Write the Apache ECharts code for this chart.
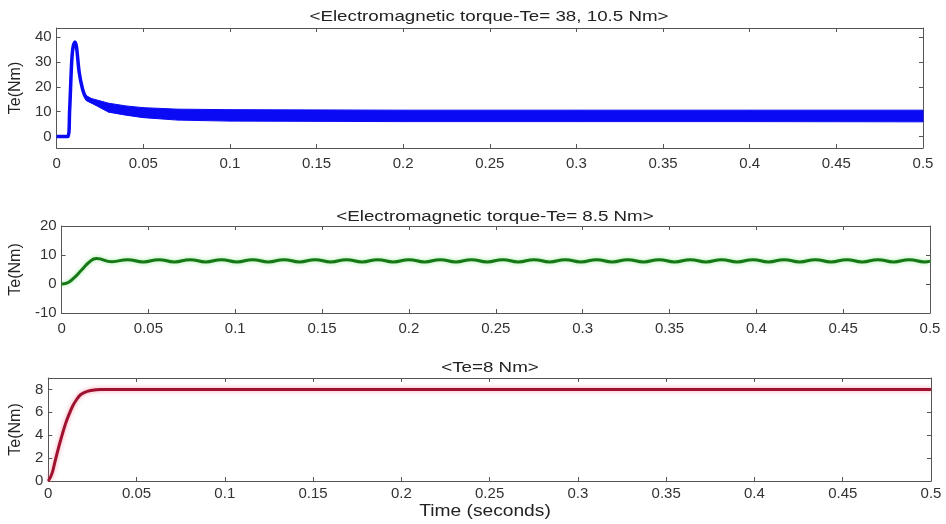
<!DOCTYPE html>
<html>
<head>
<meta charset="utf-8">
<script src="https://cdn.jsdelivr.net/npm/echarts@6/dist/echarts.min.js"></script>
<style>
  html, body { margin: 0; padding: 0; background: #fff; }
  #chart { width: 946px; height: 524px; }
</style>
</head>
<body>
<div id="chart"></div>
<script>
// panel titles
var titles = [
    '<Electromagnetic torque-Te= 38, 10.5 Nm>',
    '<Electromagnetic torque-Te= 8.5 Nm>',
    '<Te=8 Nm>'
];
var xTicks = [0, 0.05, 0.1, 0.15, 0.2, 0.25, 0.3, 0.35, 0.4, 0.45, 0.5];
var yTicks1 = [0, 10, 20, 30, 40];
var yTicks2 = [-10, 0, 10, 20];
var yTicks3 = [0, 2, 4, 6, 8];

// panel 1: start-up transient (centre line)
var t1 = [0, 0.0065, 0.0075, 0.009, 0.0105, 0.0115, 0.013, 0.015, 0.017, 0.019, 0.022, 0.026, 0.03, 0.04, 0.05, 0.06, 0.08, 0.1, 0.15, 0.2, 0.3, 0.4, 0.5];
var te1 = [0, 0, 10, 33, 38, 36, 26, 19, 15.5, 14.5, 13.5, 12.4, 11.6, 10.3, 9.6, 9.1, 8.6, 8.4, 8.3, 8.3, 8.3, 8.3, 8.3];
// panel 1: ripple envelope (lower / upper)
var tBand = [0.017, 0.02, 0.03, 0.04, 0.05, 0.07, 0.1, 0.2, 0.3, 0.4, 0.5];
var bandLow = [14.5, 13.5, 9.8, 8.6, 7.6, 6.6, 6.2, 6.0, 6.0, 6.0, 5.9];
var bandHigh = [16.5, 15.3, 13.4, 12.3, 11.6, 11.0, 10.8, 10.6, 10.6, 10.6, 10.6];

// panel 2: peaks and troughs of the ripple
var t2 = [0, 0.003, 0.007, 0.0115, 0.016, 0.020, 0.029, 0.038, 0.047, 0.056, 0.065, 0.074, 0.083, 0.092, 0.101,
    0.110, 0.119, 0.128, 0.137, 0.146, 0.155, 0.164, 0.173, 0.182, 0.191, 0.200, 0.209, 0.218, 0.227,
    0.236, 0.245, 0.254, 0.263, 0.272, 0.281, 0.290, 0.299, 0.308, 0.317, 0.326, 0.335, 0.344, 0.353,
    0.362, 0.371, 0.380, 0.389, 0.398, 0.407, 0.416, 0.425, 0.434, 0.443, 0.452, 0.461, 0.470, 0.479,
    0.488, 0.497, 0.5];
var te2 = [0, 0.3, 2.0, 4.8, 7.6, 8.8, 7.7, 8.4, 7.6, 8.4, 7.6, 8.4, 7.6, 8.4, 7.6,
    8.4, 7.6, 8.4, 7.6, 8.4, 7.6, 8.4, 7.6, 8.4, 7.6, 8.4, 7.6, 8.4, 7.6,
    8.4, 7.6, 8.4, 7.6, 8.4, 7.6, 8.4, 7.6, 8.4, 7.6, 8.4, 7.6, 8.4, 7.6,
    8.4, 7.6, 8.4, 7.6, 8.4, 7.6, 8.4, 7.6, 8.4, 7.6, 8.4, 7.6, 8.4, 7.6,
    8.4, 7.6, 7.9];

// panel 3: reference torque
var t3 = [0, 0.002, 0.004, 0.006, 0.008, 0.010, 0.012, 0.014, 0.016, 0.018, 0.020, 0.024, 0.03, 0.04, 0.5];
var te3 = [0, 0.6, 1.8, 3.0, 4.1, 5.1, 5.9, 6.6, 7.1, 7.5, 7.7, 7.9, 8.0, 8.0, 8.0];

var FONT = 'Liberation Sans, Arial, sans-serif';
var AXIS_COLOR = '#555';
var BLUE = '#0a0af5';

function pairs(xs, ys) {
    return xs.map(function (x, i) { return [x, ys[i]]; });
}

function xAxisFor(idx, margin) {
    return [{
        type: 'value', gridIndex: idx, min: 0, max: 0.5, interval: 0.05,
        axisLine: {onZero: false, lineStyle: {color: AXIS_COLOR}},
        axisTick: {inside: true, length: 4, lineStyle: {color: AXIS_COLOR}},
        axisLabel: {color: '#333', fontSize: 15, fontFamily: FONT, margin: margin},
        splitLine: {show: false}
    }, {
        type: 'value', gridIndex: idx, position: 'top', min: 0, max: 0.5, interval: 0.05,
        axisLine: {onZero: false, lineStyle: {color: AXIS_COLOR}},
        axisTick: {inside: true, length: 4, lineStyle: {color: AXIS_COLOR}},
        axisLabel: {show: false},
        splitLine: {show: false}
    }];
}

function yAxisFor(idx, min, max, ticks, gap) {
    return [{
        type: 'value', gridIndex: idx, min: min, max: max,
        axisLine: {show: true, onZero: false, lineStyle: {color: AXIS_COLOR}},
        axisTick: {show: true, inside: true, length: 4, customValues: ticks, lineStyle: {color: AXIS_COLOR}},
        axisLabel: {color: '#333', fontSize: 15, fontFamily: FONT, margin: 5, customValues: ticks},
        splitLine: {show: false},
        name: 'Te(Nm)', nameLocation: 'middle', nameRotate: 90, nameGap: gap,
        nameTextStyle: {color: '#222', fontSize: 16, fontFamily: FONT}
    }, {
        type: 'value', gridIndex: idx, position: 'right', min: min, max: max,
        axisLine: {show: true, onZero: false, lineStyle: {color: AXIS_COLOR}},
        axisTick: {show: true, inside: true, length: 4, customValues: ticks, lineStyle: {color: AXIS_COLOR}},
        axisLabel: {show: false},
        splitLine: {show: false}
    }];
}

// filled ripple band between bandLow and bandHigh
function renderBand(params, api) {
    var i = params.dataIndex;
    if (i >= tBand.length - 1) return;
    var pts = [
        api.coord([tBand[i], bandLow[i]]),
        api.coord([tBand[i + 1], bandLow[i + 1]]),
        api.coord([tBand[i + 1], bandHigh[i + 1]]),
        api.coord([tBand[i], bandHigh[i]])
    ];
    return {
        type: 'polygon',
        shape: {points: pts},
        style: {fill: BLUE, stroke: BLUE, lineWidth: 1}
    };
}

var chart = echarts.init(document.getElementById('chart'), null, {renderer: 'canvas'});

// titles are drawn a little stretched, like the source picture
var titleX = [489, 495, 490];
var titleY = [9, 209, 360];
var textEls = titles.map(function (t, i) {
    return {
        type: 'text', x: titleX[i], y: titleY[i], scaleX: 1.25,
        style: {text: t, fill: '#222', font: '15px ' + FONT, textAlign: 'center', textVerticalAlign: 'top'}
    };
});
textEls.push({
    type: 'text', x: 485, y: 504, scaleX: 1.2,
    style: {text: 'Time (seconds)', fill: '#222', font: '16px ' + FONT, textAlign: 'center', textVerticalAlign: 'top'}
});

var option = {
    backgroundColor: '#ffffff',
    animation: false,
    graphic: textEls,
    grid: [
        {left: 55, right: 23, top: 28, height: 120},
        {left: 60, right: 16, top: 226, height: 87},
        {left: 43, right: 15, top: 378, height: 103}
    ],
    xAxis: [].concat(xAxisFor(0, 8), xAxisFor(1, 8), xAxisFor(2, 5)),
    yAxis: [].concat(
        yAxisFor(0, -4.6, 43.6, yTicks1, 26),
        yAxisFor(1, -10, 20, yTicks2, 29),
        yAxisFor(2, 0, 9, yTicks3, 18)
    ),
    series: [
        {
            type: 'custom', xAxisIndex: 0, yAxisIndex: 0,
            data: tBand.map(function (t, i) { return [t, bandLow[i], bandHigh[i]]; }),
            renderItem: renderBand, clip: true, silent: true
        },
        {
            type: 'line', xAxisIndex: 0, yAxisIndex: 0,
            data: pairs(t1, te1), symbol: 'none', smooth: 0.3,
            lineStyle: {color: BLUE, width: 3.5}
        },
        {
            type: 'line', xAxisIndex: 2, yAxisIndex: 2,
            data: pairs(t2, te2), symbol: 'none', smooth: 0.5,
            lineStyle: {color: '#177817', width: 3, shadowColor: 'rgba(90,220,90,0.6)', shadowBlur: 4}
        },
        {
            type: 'line', xAxisIndex: 4, yAxisIndex: 4,
            data: pairs(t3, te3), symbol: 'none', smooth: 0.4,
            lineStyle: {color: '#9e1230', width: 3, shadowColor: 'rgba(240,90,120,0.6)', shadowBlur: 4}
        }
    ]
};

chart.setOption(option);
</script>
</body>
</html>
